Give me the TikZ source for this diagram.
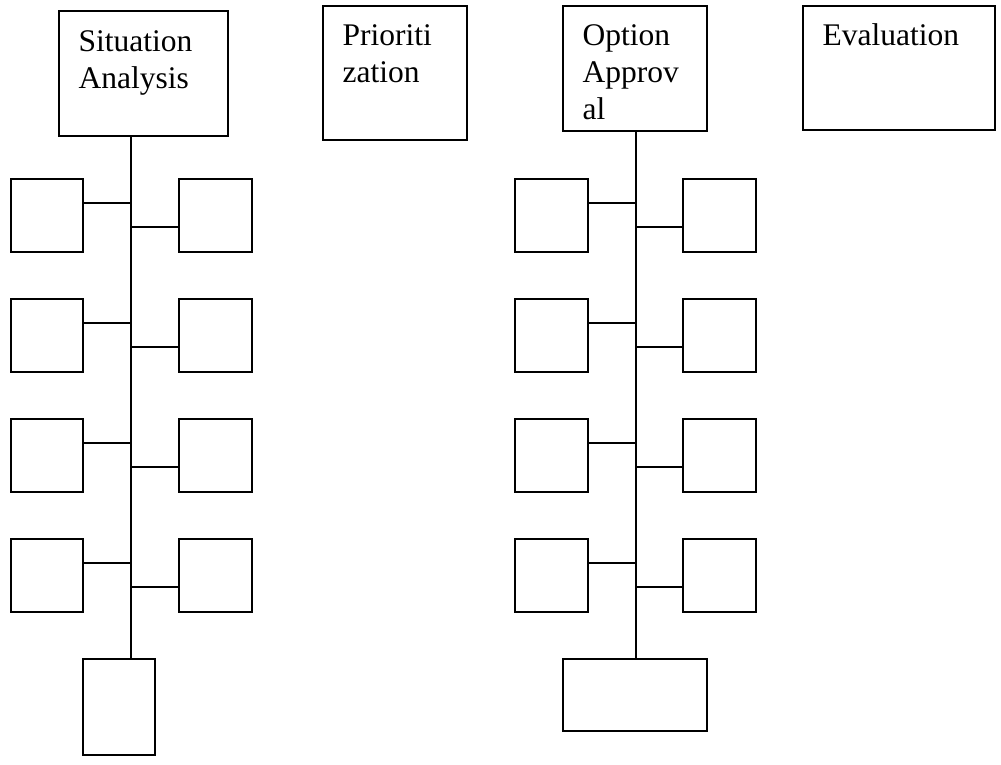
\documentclass[tikz,border=0pt]{standalone}
\usepackage{fontspec}
\setmainfont{Liberation Serif}

\tikzset{
  stage/.style={draw,line width=2pt,inner sep=0pt,outer sep=0pt,anchor=north west},
  stagetext/.style={anchor=base west,inner sep=0pt,text width=160pt,align=left,
    font={\fontsize{31.5}{36.7}\selectfont}},
  leaf/.style={draw,line width=2pt,inner sep=0pt,outer sep=0pt,minimum size=72.5pt},
  link/.style={line width=2pt}
}

\begin{document}
\begin{tikzpicture}[x=1pt,y=-1pt]
\useasboundingbox (0,0) rectangle (1001,765);
% the four stages
\node[stage,minimum width=169pt,minimum height=125pt] (sit) at (59,11) {};
\node[stage,minimum width=144pt,minimum height=134pt] (pri) at (323,6) {};
\node[stage,minimum width=144pt,minimum height=125pt] (opt) at (563,6) {};
\node[stage,minimum width=192pt,minimum height=124pt] (eva) at (803,6) {};
\node[stagetext] (sitlbl) at ([xshift=19.5pt,yshift=-40.5pt]sit.north west) {Situation\\Analysis};
\node[stagetext] (prilbl) at ([xshift=19.5pt,yshift=-40pt]pri.north west) {Prioriti\\zation};
\node[stagetext] (optlbl) at ([xshift=19.5pt,yshift=-40pt]opt.north west) {Option\\Approv\\al};
\node[stagetext] (evalbl) at ([xshift=19.5pt,yshift=-40pt]eva.north west) {Evaluation};
% spines
\coordinate (lspine) at (131,0);
\coordinate (rspine) at (635.5,0);
\node[leaf,minimum width=72.6pt,minimum height=96.3pt,anchor=north] (lend) at (119,659) {};
\node[leaf,minimum width=144pt,minimum height=72pt,anchor=north] (rend) at (635.3,659) {};
\draw[link] (lspine |- sit.south) -- (lspine |- lend.north);
\draw[link] (rspine |- opt.south) -- (rspine |- rend.north);
% leaves on both spines
\foreach \t [count=\i] in {179,299,419,539} {
  \node[leaf] (sl\i) at (47,\t+36.25) {};
  \node[leaf] (sr\i) at (215.3,\t+36.25) {};
  \node[leaf] (ol\i) at (551.3,\t+36.25) {};
  \node[leaf] (or\i) at (719.5,\t+36.25) {};
  \path ([yshift=12.25pt]sl\i.east) coordinate (sla\i)
        ([yshift=-11.75pt]sr\i.west) coordinate (sra\i)
        ([yshift=12.25pt]ol\i.east) coordinate (ola\i)
        ([yshift=-11.75pt]or\i.west) coordinate (ora\i);
  \draw[link] (sla\i) -- (sla\i -| lspine);
  \draw[link] (sra\i) -- (sra\i -| lspine);
  \draw[link] (ola\i) -- (ola\i -| rspine);
  \draw[link] (ora\i) -- (ora\i -| rspine);
}
\end{tikzpicture}
\end{document}
